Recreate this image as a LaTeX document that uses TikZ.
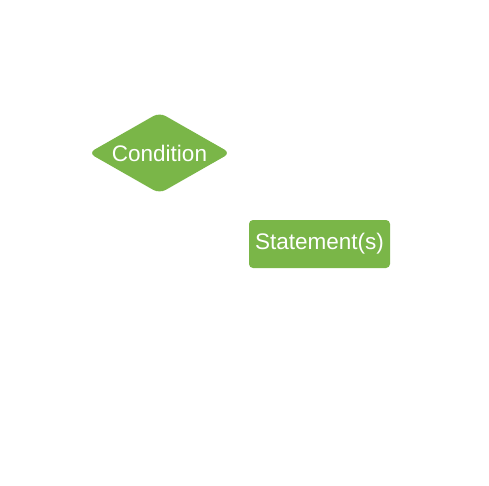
\documentclass[tikz,border=0pt]{standalone}
\usepackage{fontspec}
\setmainfont{Liberation Sans}
\usetikzlibrary{shapes.geometric}
\definecolor{lgreen}{HTML}{7AB648}
\begin{document}
\begin{tikzpicture}[x=1pt,y=-1pt,
  shapebox/.style={fill=lgreen,text=white,font=\fontsize{22.5}{26}\selectfont,inner sep=0pt}]
\useasboundingbox (0,0) rectangle (489,486);
\node[shapebox,diamond,aspect=1.78,minimum width=142pt,minimum height=81pt,rounded corners=7pt] (cond) at (159.5,153) {Condition};
\node[shapebox,rectangle,minimum width=141pt,minimum height=48pt,rounded corners=4pt] (stmt) at (319.5,244) {Statement(s)};
\end{tikzpicture}
\end{document}
